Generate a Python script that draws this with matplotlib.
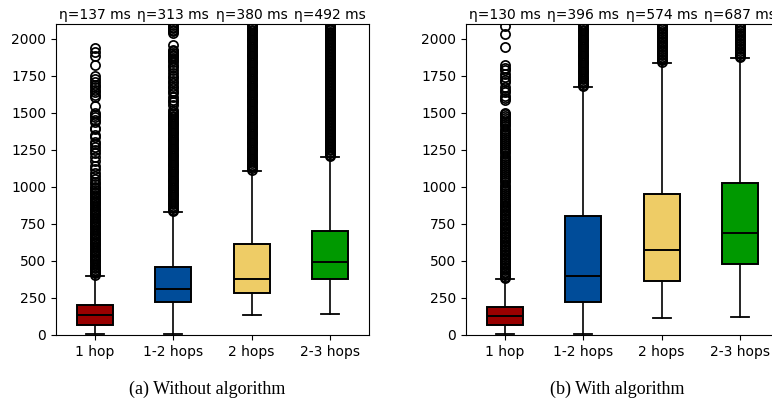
import matplotlib.pyplot as plt
from matplotlib.transforms import blended_transform_factory

# categories and colours
labels = ["1 hop", "1-2 hops", "2 hops", "2-3 hops"]
colors = ["#990000", "#004c99", "#eecc66", "#009900"]

# box statistics (ms)
# (a) without algorithm
med_a = [137, 313, 380, 492]
q1_a = [68, 221, 282, 376]
q3_a = [203, 461, 615, 703]
lo_a = [5, 5, 137, 144]
hi_a = [400, 829, 1110, 1205]

# (b) with algorithm
med_b = [130, 396, 574, 687]
q1_b = [68, 221, 365, 478]
q3_b = [191, 804, 950, 1029]
lo_b = [5, 5, 117, 124]
hi_b = [380, 1673, 1840, 1870]

# outliers (estimated; dense columns read as closely packed points)
fl_a_1hop = [405, 416, 428, 439, 451, 462, 474, 485, 497, 508, 520, 531, 543, 554,
             566, 577, 589, 600, 612, 623, 635, 646, 658, 669, 681, 692, 704, 715,
             727, 738, 750, 761, 773, 784, 796, 807, 819, 830, 842, 853, 865, 876,
             888, 899, 911, 922, 934, 945, 957, 968, 980, 990,
             1002, 1018, 1035, 1052, 1075, 1096, 1118, 1140, 1172, 1205, 1228, 1248,
             1270, 1290, 1305, 1336, 1352, 1388, 1400, 1436, 1452, 1470, 1488, 1502,
             1545, 1604, 1620, 1638, 1655, 1672, 1690, 1705, 1728, 1752, 1825, 1885,
             1912, 1940]
fl_a_12hops = [834, 846, 858, 870, 882, 894, 906, 918, 930, 942, 954, 966, 978, 990,
               1002, 1014, 1026, 1038, 1050, 1062, 1074, 1086, 1098, 1110, 1122, 1134,
               1146, 1158, 1170, 1182, 1194, 1206, 1218, 1230, 1242, 1254, 1266, 1278,
               1290, 1302, 1314, 1326, 1338, 1350, 1362, 1374, 1386, 1398, 1410, 1422,
               1434, 1446, 1458, 1470, 1482, 1494, 1506, 1520,
               1554, 1572, 1588, 1610, 1633, 1650, 1666, 1684, 1700, 1718, 1734, 1752,
               1768, 1791, 1808, 1824, 1841, 1858, 1870, 1881, 1893, 1903, 1915, 1926,
               1959, 2038, 2050, 2061, 2072, 2083, 2094]
fl_a_2hops = [1114, 1126, 1138, 1150, 1162, 1174, 1186, 1198, 1210, 1222, 1234, 1246,
              1258, 1270, 1282, 1294, 1306, 1318, 1330, 1342, 1354, 1366, 1378, 1390,
              1402, 1414, 1426, 1438, 1450, 1462, 1474, 1486, 1498, 1510, 1522, 1534,
              1546, 1558, 1570, 1582, 1594, 1606, 1618, 1630, 1642, 1654, 1666, 1678,
              1690, 1702, 1714, 1726, 1738, 1750, 1762, 1774, 1786, 1798, 1810, 1822,
              1834, 1846, 1858, 1870, 1882, 1894, 1906, 1918, 1930, 1942, 1954, 1966,
              1978, 1990, 2002, 2014, 2026, 2038, 2050, 2062, 2074, 2086, 2098]
fl_a_23hops = [1208, 1218, 1228, 1238, 1248, 1258, 1268, 1278, 1288, 1298, 1308, 1318,
               1328, 1338, 1348, 1358, 1368, 1378, 1388, 1398, 1408, 1418, 1428, 1438,
               1448, 1458, 1468, 1478, 1488, 1498, 1508, 1518, 1528, 1538, 1548, 1558,
               1568, 1578, 1588, 1598, 1608, 1618, 1628, 1638, 1648, 1658, 1668, 1678,
               1688, 1698, 1708, 1718, 1728, 1738, 1748, 1758, 1768, 1778, 1788, 1798,
               1808, 1818, 1828, 1838, 1848, 1858, 1868, 1878, 1888, 1898, 1908, 1918,
               1928, 1938, 1948, 1958, 1968, 1978, 1988, 1998, 2008, 2018, 2028, 2038,
               2048, 2058, 2068, 2078, 2088, 2098]

fl_b_1hop = [384, 395, 406, 417, 428, 439, 450, 461, 472, 483, 494, 505, 516, 527,
             538, 549, 560, 571, 582, 593, 604, 615, 626, 637, 648, 659, 670, 681,
             692, 703, 714, 725, 736, 747, 758, 769, 780, 791, 802, 813, 824, 835,
             846, 857, 868, 879, 890, 903, 918, 932, 945, 960, 975, 988, 1002, 1016,
             1030, 1044, 1058, 1072, 1086, 1100, 1114, 1128, 1142, 1156, 1170, 1184,
             1198, 1212, 1226, 1240, 1254, 1268, 1282, 1296, 1310, 1324, 1338, 1352,
             1366, 1380, 1394, 1408, 1422, 1436, 1450, 1464, 1478, 1490, 1500,
             1585, 1598, 1615, 1638, 1655, 1672, 1705, 1722, 1740, 1762, 1788, 1805,
             1822, 1945, 2032, 2085]
fl_b_12hops = [1678, 1690, 1702, 1714, 1726, 1738, 1750, 1762, 1774, 1786, 1798, 1810,
               1822, 1834, 1846, 1858, 1870, 1882, 1894, 1906, 1918, 1930, 1942, 1954,
               1966, 1978, 1990, 2002, 2014, 2026, 2038, 2050, 2062, 2074, 2086, 2098]
fl_b_2hops = [1844, 1855, 1866, 1877, 1888, 1899, 1910, 1921, 1932, 1943, 1954, 1965,
              1976, 1987, 1998, 2009, 2020, 2031, 2042, 2053, 2064, 2075, 2086, 2097]
fl_b_23hops = [1874, 1885, 1896, 1907, 1918, 1929, 1940, 1951, 1962, 1973, 1984, 1995,
               2006, 2017, 2028, 2039, 2050, 2061, 2072, 2083, 2094]

eta_a = [137, 313, 380, 492]
eta_b = [130, 396, 574, 687]


def make_stats(med, q1, q3, lo, hi, fliers):
    stats = []
    for i in range(len(med)):
        stats.append({"med": med[i], "q1": q1[i], "q3": q3[i],
                      "whislo": lo[i], "whishi": hi[i], "fliers": fliers[i],
                      "label": labels[i]})
    return stats


def draw(ax, stats, etas):
    bp = ax.bxp(stats, widths=0.46, patch_artist=True,
                medianprops=dict(color="black", linewidth=1.4),
                boxprops=dict(edgecolor="black", linewidth=1.4),
                whiskerprops=dict(linewidth=1.2),
                capprops=dict(linewidth=1.3),
                flierprops=dict(marker="o", markersize=6.6, markerfacecolor="none",
                                markeredgecolor="black", markeredgewidth=1.25))
    for patch, c in zip(bp["boxes"], colors):
        patch.set_facecolor(c)
    ax.set_ylim(0, 2100)
    ax.set_yticks([0, 250, 500, 750, 1000, 1250, 1500, 1750, 2000])
    ax.tick_params(labelsize=10)
    trans = blended_transform_factory(ax.transData, ax.transAxes)
    for i, e in enumerate(etas):
        ax.text(i + 1, 1.008, "η=%d ms" % e, transform=trans, ha="center",
                va="bottom", fontsize=10)


fig = plt.figure(figsize=(7.72, 4.0), dpi=100)
ax1 = fig.add_axes([0.0725, 0.1625, 0.4055, 0.7775])
ax2 = fig.add_axes([0.6036, 0.1625, 0.4055, 0.7775])

draw(ax1, make_stats(med_a, q1_a, q3_a, lo_a, hi_a,
                     [fl_a_1hop, fl_a_12hops, fl_a_2hops, fl_a_23hops]), eta_a)
draw(ax2, make_stats(med_b, q1_b, q3_b, lo_b, hi_b,
                     [fl_b_1hop, fl_b_12hops, fl_b_2hops, fl_b_23hops]), eta_b)

fig.text(207 / 772, 1 - 389 / 400, "(a) Without algorithm", ha="center", va="center",
         family="Liberation Serif", fontsize=13)
fig.text(617 / 772, 1 - 389 / 400, "(b) With algorithm", ha="center", va="center",
         family="Liberation Serif", fontsize=13)

fig.savefig("out.png", dpi=100)
